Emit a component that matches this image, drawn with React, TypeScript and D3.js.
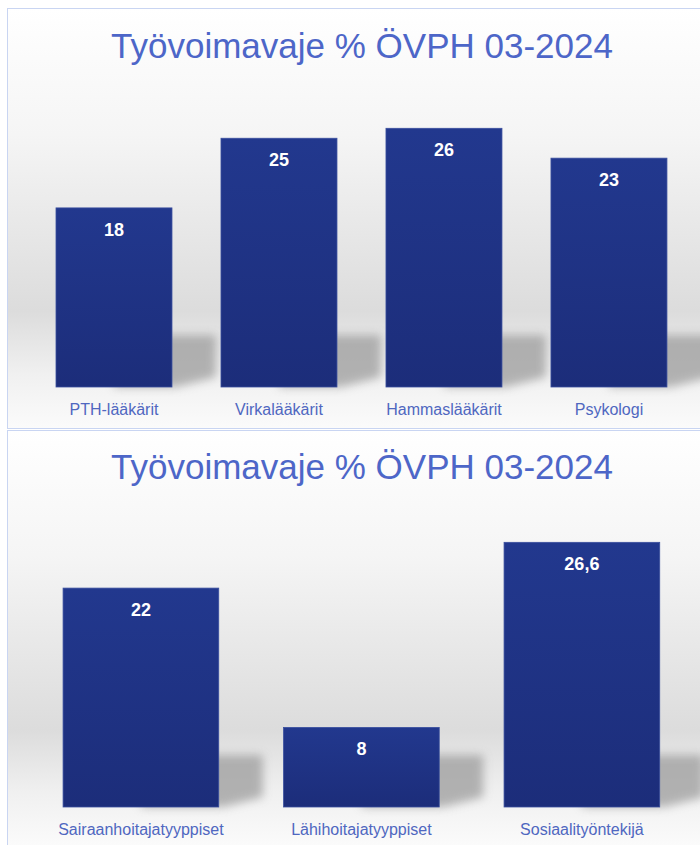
import React from "react";
import * as d3 from "d3";

const title = "Työvoimavaje % ÖVPH 03-2024";
const topCategories = ["PTH-lääkärit", "Virkalääkärit", "Hammaslääkärit", "Psykologi"];
const topValues = [18, 25, 26, 23];
const topLabels = ["18", "25", "26", "23"];
const bottomCategories = ["Sairaanhoitajatyyppiset", "Lähihoitajatyyppiset", "Sosiaalityöntekijä"];
const bottomValues = [22, 8, 26.6];
const bottomLabels = ["22", "8", "26,6"];

const W = 700;
const H = 845;
const font = "'Liberation Sans', Arial, sans-serif";

type PanelProps = {
  id: string;
  y0: number;
  y1: number;
  baseline: number;
  titleY: number;
  catY: number;
  xRange: [number, number];
  padInner: number;
  cats: string[];
  vals: number[];
  labels: string[];
};

function Panel(p: PanelProps) {
  const x = d3.scaleBand<string>().domain(p.cats).range(p.xRange).paddingInner(p.padInner).paddingOuter(0.15);
  const y = d3.scaleLinear().domain([0, 30]).range([p.baseline, p.baseline - 298.5]);
  const bw = x.bandwidth();
  return (
    <g>
      <defs>
        <linearGradient id={p.id + "bg"} x1="0" y1="0" x2="0" y2="1">
          <stop offset="0" stopColor="#ffffff" />
          <stop offset="0.3" stopColor="#f5f5f5" />
          <stop offset="0.72" stopColor="#dcdcdc" />
          <stop offset="0.87" stopColor="#f0f0f0" />
          <stop offset="1" stopColor="#fbfbfb" />
        </linearGradient>
        <linearGradient id={p.id + "bar"} x1="0" y1="0" x2="0" y2="1">
          <stop offset="0" stopColor="#22388e" />
          <stop offset="1" stopColor="#1c2d7a" />
        </linearGradient>
        <filter id={p.id + "blur"} x="-50%" y="-50%" width="200%" height="200%">
          <feGaussianBlur stdDeviation="5" />
        </filter>
      </defs>
      <rect x={7.5} y={p.y0 + 0.5} width={W} height={p.y1 - p.y0} fill={`url(#${p.id}bg)`} stroke="#c9d5f2" strokeWidth={1} />
      <text x={362} y={p.titleY} textAnchor="middle" fontFamily={font} fontSize={35} fill="#4d66c8">
        {title}
      </text>
      {p.cats.map((c, i) => {
        const bx = x(c)!;
        const r = bx + bw;
        const b = p.baseline;
        const pts = [
          [bx + bw * 0.5, b - 52],
          [r + 44, b - 52],
          [r + 44, b - 10],
          [r + 4, b],
          [bx + bw * 0.5, b],
        ]
          .map((q) => q.join(","))
          .join(" ");
        return <polygon key={c + "sh"} points={pts} fill="#9c9c9c" opacity={0.75} filter={`url(#${p.id}blur)`} />;
      })}
      {p.cats.map((c, i) => {
        const bx = x(c)!;
        const by = y(p.vals[i]);
        return (
          <g key={c + "bar"}>
            <rect x={bx} y={by} width={bw} height={p.baseline - by} fill={`url(#${p.id}bar)`} stroke="#3a4f9e" strokeWidth={0.8} />
            <text x={bx + bw / 2} y={by + 28} textAnchor="middle" fontFamily={font} fontWeight="bold" fontSize={18} fill="#ffffff">
              {p.labels[i]}
            </text>
            <text x={bx + bw / 2} y={p.catY} textAnchor="middle" fontFamily={font} fontSize={16} fill="#4f67c0">
              {c}
            </text>
          </g>
        );
      })}
    </g>
  );
}

export default function App() {
  return (
    <svg width={W} height={H} style={{ position: "absolute", left: 0, top: 0, background: "#ffffff" }}>
      <rect x={0} y={0} width={W} height={H} fill="#ffffff" />
      <Panel
        id="p1"
        y0={8}
        y1={428}
        baseline={387}
        titleY={58}
        catY={415}
        xRange={[31.25, 691.7]}
        padInner={0.297}
        cats={topCategories}
        vals={topValues}
        labels={topLabels}
      />
      <Panel
        id="p2"
        y0={430}
        y1={846}
        baseline={807}
        titleY={479}
        catY={835}
        xRange={[30, 692.8]}
        padInner={0.294}
        cats={bottomCategories}
        vals={bottomValues}
        labels={bottomLabels}
      />
    </svg>
  );
}
